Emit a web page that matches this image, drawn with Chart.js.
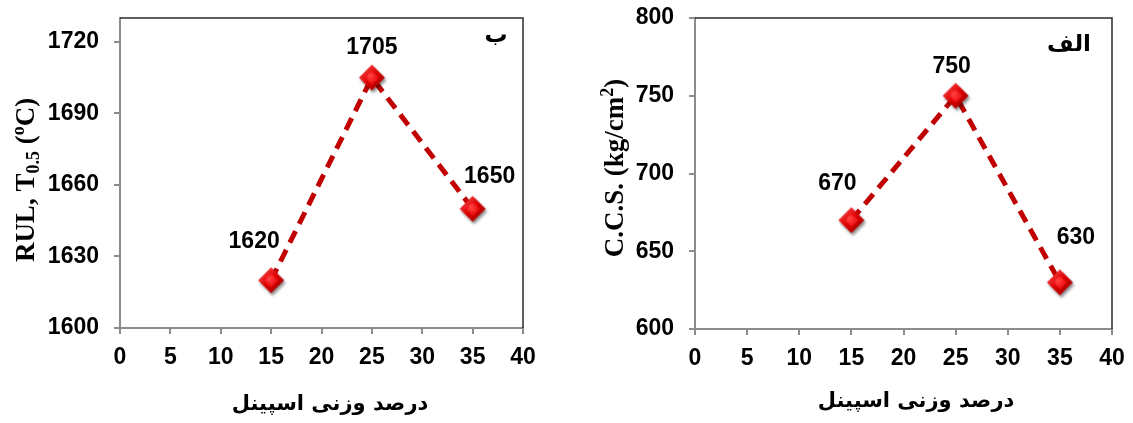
<!DOCTYPE html>
<html>
<head>
<meta charset="utf-8">
<script src="https://cdn.jsdelivr.net/npm/chart.js@4.4.0/dist/chart.umd.min.js"></script>
<style>
  html, body { margin: 0; padding: 0; background: #fff; }
  #wrap { position: relative; width: 1133px; height: 423px; }
  .box { position: absolute; top: 0; }
</style>
</head>
<body>
<div id="wrap">
  <div class="box" style="left:0"><canvas id="rul" width="566" height="423"></canvas></div>
  <div class="box" style="left:566px"><canvas id="ccs" width="567" height="423"></canvas></div>
</div>
<script>
// data
const spinel = [15, 25, 35];            // wt% spinel
const rulValues = [1620, 1705, 1650];   // RUL, T0.5 (ºC)
const ccsValues = [670, 750, 630];      // C.C.S. (kg/cm2)

const xTickValues = [0, 5, 10, 15, 20, 25, 30, 35, 40];
const rulTickValues = [1600, 1630, 1660, 1690, 1720];
const ccsTickValues = [600, 650, 700, 750, 800];

const xTitle = 'درصد وزنی اسپینل';
const rulTag = 'ب';
const ccsTag = 'الف';

// label nudges relative to each marker
const rulLabelShift = [[-17, -39], [0, -30], [17, -32]];
const ccsLabelShift = [[-14, -36], [-4, -29], [16, -45]];

const AXIS_GREY = '#8c8c8c';
const TICK_FONT = {family: '"Liberation Sans", Arial, sans-serif', size: 23, weight: 'bold'};

// shaded red diamond used as marker
function makeDiamond() {
    const r = 13, pad = 6, s = 2 * (r + pad), m = s / 2;
    const c = document.createElement('canvas');
    c.width = c.height = s;
    const g = c.getContext('2d');
    const path = (rr) => {
        g.beginPath();
        g.moveTo(m, m - rr);
        g.lineTo(m + rr, m);
        g.lineTo(m, m + rr);
        g.lineTo(m - rr, m);
        g.closePath();
    };
    g.save();
    g.shadowColor = 'rgba(0,0,0,0.45)';
    g.shadowBlur = 3;
    g.shadowOffsetX = 1.5;
    g.shadowOffsetY = 2.5;
    path(r);
    const lg = g.createLinearGradient(m - r, m - r, m + r, m + r);
    lg.addColorStop(0, '#ff5a5a');
    lg.addColorStop(0.5, '#dc0000');
    lg.addColorStop(1, '#920000');
    g.fillStyle = lg;
    g.fill();
    g.restore();
    path(r * 0.55);
    const rg = g.createRadialGradient(m - 2, m - 2, 1, m, m, r * 0.6);
    rg.addColorStop(0, '#ff4040');
    rg.addColorStop(1, '#e80000');
    g.fillStyle = rg;
    g.fill();
    return c;
}
const marker = makeDiamond();

// frame, titles, tag and value labels
const decor = {
    id: 'decor',
    afterDraw(chart, args, o) {
        const ctx = chart.ctx;
        const a = chart.chartArea;
        ctx.save();

        // top & right frame lines
        ctx.strokeStyle = '#2b2b2b';
        ctx.lineWidth = 1.5;
        ctx.beginPath();
        ctx.moveTo(a.left, a.top);
        ctx.lineTo(a.right, a.top);
        ctx.lineTo(a.right, a.bottom);
        ctx.stroke();

        // value labels
        const meta = chart.getDatasetMeta(0);
        ctx.fillStyle = '#000';
        ctx.font = 'bold 23px "Liberation Sans", Arial, sans-serif';
        ctx.textAlign = 'center';
        ctx.textBaseline = 'middle';
        meta.data.forEach((pt, i) => {
            const v = chart.data.datasets[0].data[i].y;
            ctx.fillText(String(v), pt.x + o.shift[i][0], pt.y + o.shift[i][1]);
        });

        // tag letter
        ctx.font = 'bold 23px "DejaVu Sans", sans-serif';
        ctx.fillText(o.tag, o.tagPos[0], o.tagPos[1]);

        // x title
        ctx.font = 'bold 21px "DejaVu Sans", sans-serif';
        ctx.fillText(xTitle, o.xTitlePos[0], o.xTitlePos[1]);

        // rotated y title with sub/superscripts
        const base = 27, small = 18;
        const fnt = (sz) => `bold ${sz}px "Liberation Serif", "Times New Roman", serif`;
        let total = 0;
        o.yTitle.forEach(p => {
            ctx.font = fnt(p.sub || p.sup ? small : base);
            p.w = ctx.measureText(p.t).width;
            total += p.w;
        });
        ctx.translate(o.yTitlePos[0], o.yTitlePos[1]);
        ctx.rotate(-Math.PI / 2);
        ctx.textAlign = 'left';
        ctx.textBaseline = 'alphabetic';
        let x = -total / 2;
        o.yTitle.forEach(p => {
            ctx.font = fnt(p.sub || p.sup ? small : base);
            const dy = p.sub ? 5 : (p.sup ? -10 : 0);
            ctx.fillText(p.t, x, 9 + dy);
            x += p.w;
        });
        ctx.restore();
    }
};

function makeChart(id, values, yMin, yMax, yTicks, opts) {
    const ctx = document.getElementById(id).getContext('2d');
    return new Chart(ctx, {
        type: 'line',
        data: {
            datasets: [{
                data: spinel.map((s, i) => ({x: s, y: values[i]})),
                borderColor: '#c00000',
                borderWidth: 5,
                borderDash: [13, 8],
                borderCapStyle: 'butt',
                pointStyle: marker,
                pointRadius: 13,
                pointHoverRadius: 13,
                tension: 0
            }]
        },
        options: {
            responsive: false,
            animation: false,
            events: [],
            layout: {padding: {left: 0, top: 13, right: opts.padRight, bottom: 0}},
            plugins: {
                legend: {display: false},
                tooltip: {enabled: false},
                decor: opts.decor
            },
            scales: {
                x: {
                    type: 'linear',
                    min: 0, max: 40,
                    afterBuildTicks: s => { s.ticks = xTickValues.map(v => ({value: v})); },
                    ticks: {color: '#000', font: TICK_FONT, padding: 10, maxRotation: 0,
                        callback: v => String(v)},
                    grid: {drawOnChartArea: false, drawTicks: true, tickLength: 6, color: AXIS_GREY, lineWidth: 2},
                    border: {color: AXIS_GREY, width: 2},
                    afterFit: s => { s.height = opts.xHeight; s.paddingLeft = 0; s.paddingRight = 0; }
                },
                y: {
                    type: 'linear',
                    min: yMin, max: yMax,
                    afterBuildTicks: s => { s.ticks = yTicks.map(v => ({value: v})); },
                    ticks: {color: '#000', font: TICK_FONT, padding: 15, callback: v => String(v)},
                    grid: {drawOnChartArea: false, drawTicks: true, tickLength: 6, color: AXIS_GREY, lineWidth: 2},
                    border: {color: AXIS_GREY, width: 2},
                    afterFit: s => { s.width = opts.yWidth; s.paddingTop = 0; s.paddingBottom = 0; }
                }
            }
        },
        plugins: [decor]
    });
}

makeChart('rul', rulValues, 1600, 1730, rulTickValues, {
    padRight: 43, xHeight: 95, yWidth: 120,
    decor: {
        shift: rulLabelShift,
        tag: rulTag, tagPos: [496, 36],
        xTitlePos: [330, 405],
        yTitlePos: [25, 180],
        yTitle: [{t: 'RUL, T'}, {t: '0.5', sub: true}, {t: ' ('}, {t: 'o', sup: true}, {t: 'C)'}]
    }
});

makeChart('ccs', ccsValues, 600, 800, ccsTickValues, {
    padRight: 21, xHeight: 94, yWidth: 129,
    decor: {
        shift: ccsLabelShift,
        tag: ccsTag, tagPos: [503, 45],
        xTitlePos: [350, 402],
        yTitlePos: [48, 168],
        yTitle: [{t: 'C.C.S. (kg/cm'}, {t: '2', sup: true}, {t: ')'}]
    }
});
</script>
</body>
</html>
